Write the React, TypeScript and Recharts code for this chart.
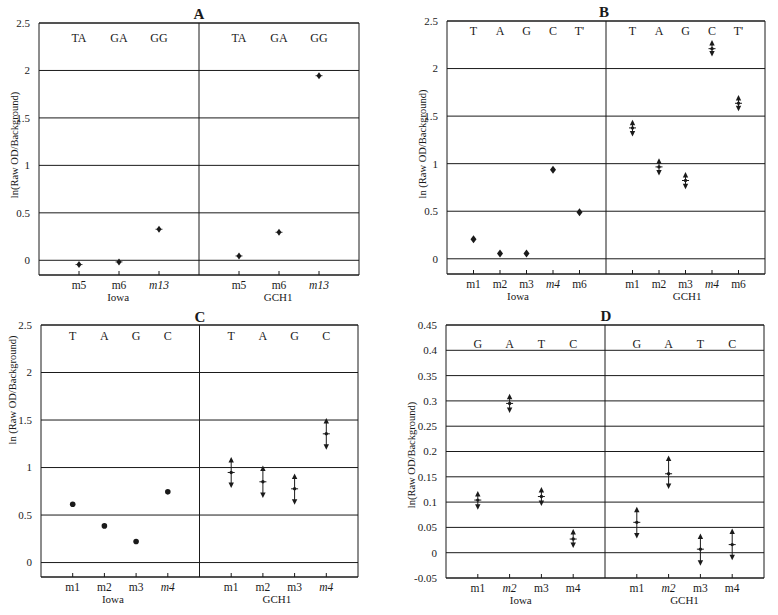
import React from 'react';
import {
  ScatterChart,
  Scatter,
  XAxis,
  YAxis,
  CartesianGrid,
  ReferenceLine,
  ReferenceArea,
  ErrorBar,
} from 'recharts';

const FONT = '"Liberation Serif", "Times New Roman", Times, serif';
const INK = '#1a1a1a';

// ---------------- Panel A ----------------
const aLabels = ['m5', 'm6', 'm13'];
const aItalic = [false, false, true];
const aBases = ['TA', 'GA', 'GG'];
const aIowa = [-0.045, -0.017, 0.327];
const aGch1 = [0.046, 0.295, 1.945];

// ---------------- Panel B ----------------
const bLabels = ['m1', 'm2', 'm3', 'm4', 'm6'];
const bItalic = [false, false, false, true, false];
const bBases = ['T', 'A', 'G', 'C', "T'"];
const bIowa = [0.205, 0.055, 0.055, 0.935, 0.49];
const bGch1 = [1.376, 0.966, 0.823, 2.209, 1.635];
const bGch1Low = [1.317, 0.907, 0.763, 2.157, 1.583];
const bGch1High = [1.43, 1.026, 0.882, 2.269, 1.691];

// ---------------- Panel C ----------------
const cLabels = ['m1', 'm2', 'm3', 'm4'];
const cItalic = [false, false, false, true];
const cBases = ['T', 'A', 'G', 'C'];
const cIowa = [0.614, 0.386, 0.221, 0.744];
const cGch1 = [0.948, 0.85, 0.776, 1.355];
const cGch1Low = [0.815, 0.71, 0.64, 1.218];
const cGch1High = [1.08, 0.99, 0.905, 1.49];

// ---------------- Panel D ----------------
const dLabels = ['m1', 'm2', 'm3', 'm4'];
const dItalic = [false, true, false, false];
const dBases = ['G', 'A', 'T', 'C'];
const dIowa = [0.104, 0.295, 0.111, 0.027];
const dIowaLow = [0.091, 0.282, 0.098, 0.015];
const dIowaHigh = [0.116, 0.308, 0.124, 0.041];
const dGch1 = [0.06, 0.156, 0.007, 0.016];
const dGch1Low = [0.034, 0.132, -0.02, -0.009];
const dGch1High = [0.085, 0.186, 0.032, 0.042];

const groups = ['Iowa', 'GCH1'];
const ticksABC = [0, 0.5, 1, 1.5, 2, 2.5];
const ticksD = [-0.05, 0, 0.05, 0.1, 0.15, 0.2, 0.25, 0.3, 0.35, 0.4, 0.45];

type Pt = { x: number; y: number };
type ErrPt = { x: number; y: number; lo: number; hi: number };

const seqFrom = (start: number, n: number) => Array.from({ length: n }, (_, i) => start + i);

const plainPts = (pos: number[], vals: number[]): Pt[] => vals.map((v, i) => ({ x: pos[i], y: v }));
const errPts = (pos: number[], vals: number[], lo: number[], hi: number[]): ErrPt[] =>
  vals.map((v, i) => ({ x: pos[i], y: v, lo: lo[i], hi: hi[i] }));

// ---------- shapes ----------
const DiamondShape = (p: any) => (
  <path d={`M${p.cx},${p.cy - 4} L${p.cx + 3},${p.cy} L${p.cx},${p.cy + 4} L${p.cx - 3},${p.cy} Z`} fill={INK} />
);
const SmallDiamondShape = (p: any) => (
  <g>
    <path d={`M${p.cx},${p.cy - 3.5} L${p.cx + 2.5},${p.cy} L${p.cx},${p.cy + 3.5} L${p.cx - 2.5},${p.cy} Z`} fill={INK} />
    <line x1={p.cx - 3.5} x2={p.cx + 3.5} y1={p.cy} y2={p.cy} stroke={INK} strokeWidth={0.8} />
  </g>
);
const DotShape = (p: any) => <circle cx={p.cx} cy={p.cy} r={2.8} fill={INK} />;
const CenterShape = (p: any) => (
  <g>
    <line x1={p.cx - 3.5} x2={p.cx + 3.5} y1={p.cy} y2={p.cy} stroke={INK} strokeWidth={1} />
    <circle cx={p.cx} cy={p.cy} r={1.7} fill={INK} />
  </g>
);
const UpTri = (p: any) => (
  <path d={`M${p.cx},${p.cy - 3} L${p.cx + 2.7},${p.cy + 2.5} L${p.cx - 2.7},${p.cy + 2.5} Z`} fill={INK} />
);
const DownTri = (p: any) => (
  <path d={`M${p.cx},${p.cy + 3} L${p.cx + 2.7},${p.cy - 2.5} L${p.cx - 2.7},${p.cy - 2.5} Z`} fill={INK} />
);
const LetterShape = (p: any) => (
  <text
    x={p.cx}
    y={p.cy}
    textAnchor="middle"
    dominantBaseline="central"
    fontFamily={FONT}
    fontSize={12}
    fill={INK}
  >
    {p.payload.t}
  </text>
);

type PanelCfg = {
  box: { left: number; top: number; width: number; height: number };
  plot: { left: number; top: number; right: number; bottom: number };
  xMax: number;
  yDomain: [number, number];
  yTicks: number[];
  catPos: number[];
  catLabels: string[];
  catItalic: boolean[];
  bases: string[];
  baseY: number;
  groupPos: number[];
  divider: number;
  plain: Pt[];
  plainShape: (p: any) => React.ReactElement;
  err: ErrPt[];
  title: string;
  titlePos: { x: number; y: number };
  yLabel: string;
  yLabelPos: { x: number; y: number };
  topTicks: boolean;
};

function Panel({ cfg }: { cfg: PanelCfg }) {
  const { box, plot } = cfg;
  const YW = 30;
  const XH = 30;
  const margin = {
    left: plot.left - box.left - YW,
    top: plot.top - box.top,
    right: box.left + box.width - plot.right,
    bottom: box.top + box.height - plot.bottom - XH,
  };
  const allTicks = [...cfg.catPos, ...cfg.groupPos];
  const XTick = (p: any) => {
    const v = p.payload.value;
    const i = cfg.catPos.indexOf(v);
    if (i >= 0) {
      return (
        <g>
          <line x1={p.x} x2={p.x} y1={p.y} y2={p.y - 4} stroke={INK} strokeWidth={1} />
          <text
            x={p.x}
            y={p.y + 14}
            textAnchor="middle"
            fontFamily={FONT}
            fontSize={11.5}
            fontStyle={cfg.catItalic[i % cfg.catLabels.length] ? 'italic' : 'normal'}
            fill={INK}
          >
            {cfg.catLabels[i % cfg.catLabels.length]}
          </text>
        </g>
      );
    }
    const g = cfg.groupPos.indexOf(v);
    if (g >= 0) {
      return (
        <text x={p.x} y={p.y + 26} textAnchor="middle" fontFamily={FONT} fontSize={11} fill={INK}>
          {groups[g]}
        </text>
      );
    }
    return <g />;
  };
  const TopTick = (p: any) => {
    const v = p.payload.value;
    if (!cfg.topTicks || cfg.catPos.indexOf(v) < 0) return <g />;
    return <line x1={p.x} x2={p.x} y1={p.y} y2={p.y + 4} stroke={INK} strokeWidth={1} />;
  };
  const letters = cfg.catPos.map((x, i) => ({ x, y: cfg.baseY, t: cfg.bases[i % cfg.bases.length] }));
  const errCenter = cfg.err.map((d) => ({ x: d.x, y: d.y, e: [d.y - d.lo, d.hi - d.y] }));
  const errHi = cfg.err.map((d) => ({ x: d.x, y: d.hi }));
  const errLo = cfg.err.map((d) => ({ x: d.x, y: d.lo }));

  return (
    <div style={{ position: 'absolute', left: box.left, top: box.top, width: box.width, height: box.height }}>
      <ScatterChart width={box.width} height={box.height} margin={margin}>
        <CartesianGrid horizontal vertical={false} stroke={INK} strokeWidth={1} />
        <XAxis
          xAxisId={0}
          type="number"
          dataKey="x"
          domain={[0, cfg.xMax]}
          ticks={allTicks}
          interval={0}
          allowDataOverflow
          axisLine={false}
          tickLine={false}
          tickSize={0}
          tickMargin={0}
          height={XH}
          tick={XTick}
        />
        <XAxis
          xAxisId={1}
          orientation="top"
          type="number"
          dataKey="x"
          domain={[0, cfg.xMax]}
          ticks={cfg.catPos}
          interval={0}
          allowDataOverflow
          axisLine={false}
          tickLine={false}
          tickSize={0}
          tickMargin={0}
          height={0}
          tick={TopTick}
        />
        <YAxis
          type="number"
          dataKey="y"
          domain={cfg.yDomain}
          ticks={cfg.yTicks}
          interval={0}
          allowDataOverflow
          axisLine={false}
          tickLine={false}
          tickMargin={3}
          width={YW}
          tick={{ fontFamily: FONT, fontSize: 11, fill: INK }}
        />
        <ReferenceArea
          xAxisId={0}
          x1={0}
          x2={cfg.xMax}
          y1={cfg.yDomain[0]}
          y2={cfg.yDomain[1]}
          fill="none"
          fillOpacity={0}
          stroke={INK}
          strokeWidth={1}
          ifOverflow="visible"
        />
        <ReferenceLine xAxisId={0} x={cfg.divider} stroke={INK} strokeWidth={1} />
        <Scatter xAxisId={0} data={letters} dataKey="y" shape={LetterShape} isAnimationActive={false} />
        {cfg.plain.length > 0 && (
          <Scatter xAxisId={0} data={cfg.plain} dataKey="y" shape={cfg.plainShape} isAnimationActive={false} />
        )}
        {cfg.err.length > 0 && (
          <Scatter xAxisId={0} data={errCenter} dataKey="y" shape={CenterShape} isAnimationActive={false}>
            <ErrorBar dataKey="e" direction="y" width={0} stroke={INK} strokeWidth={1} isAnimationActive={false} />
          </Scatter>
        )}
        {cfg.err.length > 0 && (
          <Scatter xAxisId={0} data={errHi} dataKey="y" shape={UpTri} isAnimationActive={false} />
        )}
        {cfg.err.length > 0 && (
          <Scatter xAxisId={0} data={errLo} dataKey="y" shape={DownTri} isAnimationActive={false} />
        )}
      </ScatterChart>
      <div
        style={{
          position: 'absolute',
          left: cfg.titlePos.x - box.left,
          top: cfg.titlePos.y - box.top,
          transform: 'translate(-50%, -50%)',
          fontFamily: FONT,
          fontWeight: 'bold',
          fontSize: 15,
          color: INK,
          lineHeight: 1,
        }}
      >
        {cfg.title}
      </div>
      <div
        style={{
          position: 'absolute',
          left: cfg.yLabelPos.x - box.left,
          top: cfg.yLabelPos.y - box.top,
          transform: 'translate(-50%, -50%) rotate(-90deg)',
          fontFamily: FONT,
          fontSize: 10.5,
          color: INK,
          whiteSpace: 'nowrap',
          lineHeight: 1,
        }}
      >
        {cfg.yLabel}
      </div>
    </div>
  );
}

const aIowaPos = seqFrom(1, 3);
const aGchPos = seqFrom(5, 3);
const bIowaPos = seqFrom(1, 5);
const bGchPos = seqFrom(7, 5);
const cIowaPos = seqFrom(1, 4);
const cGchPos = seqFrom(6, 4);

const panelA: PanelCfg = {
  box: { left: 0, top: 0, width: 389, height: 310 },
  plot: { left: 39, top: 23, right: 359, bottom: 275 },
  xMax: 8,
  yDomain: [-0.155, 2.5],
  yTicks: ticksABC,
  catPos: [...aIowaPos, ...aGchPos],
  catLabels: aLabels,
  catItalic: aItalic,
  bases: aBases,
  baseY: 2.34,
  groupPos: [1.98, 5.98],
  divider: 4,
  plain: [...plainPts(aIowaPos, aIowa), ...plainPts(aGchPos, aGch1)],
  plainShape: SmallDiamondShape,
  err: [],
  title: 'A',
  titlePos: { x: 199, y: 14 },
  yLabel: 'ln(Raw OD/Background)',
  yLabelPos: { x: 15, y: 145 },
  topTicks: false,
};

const panelB: PanelCfg = {
  box: { left: 389, top: 0, width: 389, height: 310 },
  plot: { left: 447, top: 21, right: 765, bottom: 274 },
  xMax: 12,
  yDomain: [-0.16, 2.5],
  yTicks: ticksABC,
  catPos: [...bIowaPos, ...bGchPos],
  catLabels: bLabels,
  catItalic: bItalic,
  bases: bBases,
  baseY: 2.4,
  groupPos: [2.68, 9.06],
  divider: 6,
  plain: plainPts(bIowaPos, bIowa),
  plainShape: DiamondShape,
  err: errPts(bGchPos, bGch1, bGch1Low, bGch1High),
  title: 'B',
  titlePos: { x: 604, y: 12 },
  yLabel: 'ln (Raw OD/Background)',
  yLabelPos: { x: 423, y: 144 },
  topTicks: false,
};

const panelC: PanelCfg = {
  box: { left: 0, top: 300, width: 389, height: 315 },
  plot: { left: 41, top: 325, right: 358, bottom: 577 },
  xMax: 10,
  yDomain: [-0.152, 2.5],
  yTicks: ticksABC,
  catPos: [...cIowaPos, ...cGchPos],
  catLabels: cLabels,
  catItalic: cItalic,
  bases: cBases,
  baseY: 2.38,
  groupPos: [2.27, 7.44],
  divider: 5,
  plain: plainPts(cIowaPos, cIowa),
  plainShape: DotShape,
  err: errPts(cGchPos, cGch1, cGch1Low, cGch1High),
  title: 'C',
  titlePos: { x: 200, y: 317 },
  yLabel: 'ln (Raw OD/Background)',
  yLabelPos: { x: 13, y: 390 },
  topTicks: false,
};

const panelD: PanelCfg = {
  box: { left: 389, top: 300, width: 389, height: 315 },
  plot: { left: 446, top: 325, right: 764, bottom: 578 },
  xMax: 10,
  yDomain: [-0.05, 0.45],
  yTicks: ticksD,
  catPos: [...cIowaPos, ...cGchPos],
  catLabels: dLabels,
  catItalic: dItalic,
  bases: dBases,
  baseY: 0.412,
  groupPos: [2.35, 7.5],
  divider: 5,
  plain: [],
  plainShape: DotShape,
  err: [
    ...errPts(cIowaPos, dIowa, dIowaLow, dIowaHigh),
    ...errPts(cGchPos, dGch1, dGch1Low, dGch1High),
  ],
  title: 'D',
  titlePos: { x: 606, y: 316 },
  yLabel: 'ln(Raw OD/Background)',
  yLabelPos: { x: 412, y: 455 },
  topTicks: true,
};

export default function App() {
  return (
    <div style={{ position: 'absolute', left: 0, top: 0, width: 778, height: 615, background: '#fff' }}>
      <Panel cfg={panelA} />
      <Panel cfg={panelB} />
      <Panel cfg={panelC} />
      <Panel cfg={panelD} />
    </div>
  );
}
